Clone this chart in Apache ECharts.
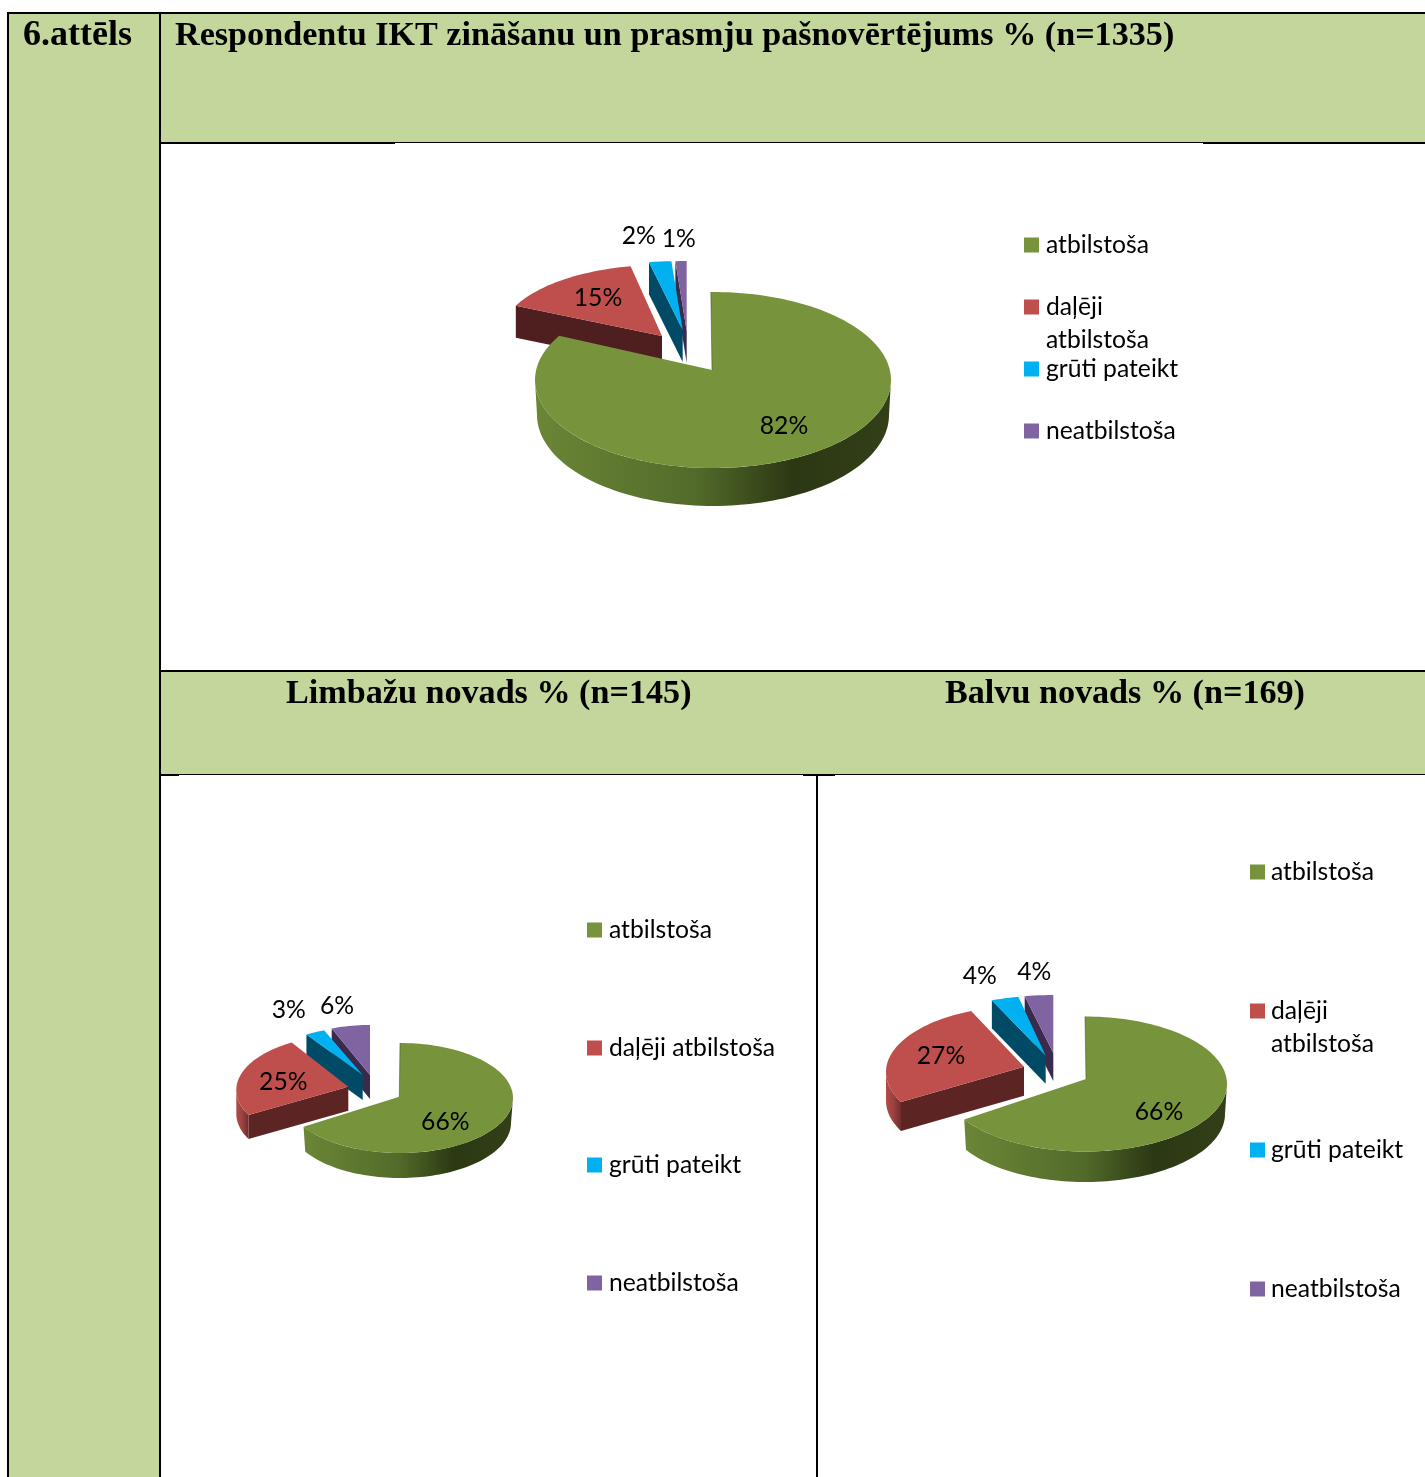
<!DOCTYPE html>
<html><head><meta charset="utf-8">
<style>html,body{margin:0;padding:0;background:#fff}#c{width:1425px;height:1477px}</style>
<script src="https://cdn.jsdelivr.net/npm/echarts@6/dist/echarts.min.js"></script>
</head><body><div id="c"></div>
<script>
// ---- data ----
const categories = ['atbilstoša', 'daļēji atbilstoša', 'grūti pateikt', 'neatbilstoša'];
const valuesAll = [82, 15, 2, 1];
const valuesLimbazi = [66, 25, 3, 6];
const valuesBalvi = [66, 27, 4, 4];
const figureLabel = '6.attēls';
const titleAll = 'Respondentu IKT zināšanu un prasmju pašnovērtējums % (n=1335)';
const titleLimbazi = 'Limbažu novads % (n=145)';
const titleBalvi = 'Balvu novads % (n=169)';

// ---- style and layout ----
const colors = ['#77933C', '#BE4F4C', '#00B0F0', '#8064A2'];
const cutColors = ['#3a4a1b', '#5c2524', '#004a66', '#3a2b4c'];
const greenWall = [[0,'#6b8636'],[0.45,'#536b2a'],[0.72,'#2c3813'],[1,'#333f18']];
const redWall = [[0,'#b24c49'],[0.5,'#9a4240'],[1,'#6e2c2b']];
const FONT = 'Lato';
const SERIF = 'Liberation Serif';

// da0/da1: perspective correction of a slice's edges, in degrees
const layouts = [
  { values: valuesAll, slices: [
    {ax:712,ay:370,cx:713,cy:380,rx:178,ry:88,bot:{cy:415,rx:176,ry:91},da0:-0.7,da1:5,lab:[72,56]},
    {ax:662,ay:336,cx:660.6,cy:336,rx:160,ry:71,depth:32,cut:'#4f1f1f',lab:[-64,-38]},
    {ax:682.7,ay:330,cx:682.7,cy:330,rx:180,ry:69,depth:32,lab:[-44,-94]},
    {ax:686.7,ay:331,cx:686.7,cy:331,rx:180,ry:70,depth:32,lab:[-8,-92]}
  ]},
  { values: valuesLimbazi, slices: [
    {ax:399.3,ay:1096.7,cx:400,cy:1098,rx:113,ry:55,bot:{cy:1123,rx:111,ry:55},da1:1,lab:[46,25]},
    {ax:348.3,ay:1086.7,cx:348.3,cy:1090,rx:112,ry:55,depth:24,da0:5.4,da1:2,lab:[-65,-5]},
    {ax:362.7,ay:1075,cx:362.7,cy:1075,rx:105,ry:48,depth:25,lab:[-74,-65]},
    {ax:370,ay:1075,cx:370,cy:1075,rx:104,ry:50,depth:24,lab:[-33,-69]}
  ]},
  { values: valuesBalvi, slices: [
    {ax:1086,ay:1079,cx:1085,cy:1084,rx:142,ry:67.5,bot:{cy:1114,rx:140,ry:68},da1:3,lab:[73,33]},
    {ax:1024,ay:1066.7,cx:1024,cy:1072,rx:138,ry:66,depth:29,da0:7.8,da1:6,lab:[-83,-11]},
    {ax:1045.7,ay:1055.7,cx:1045.7,cy:1055.7,rx:140,ry:60,depth:28,da0:5.9,da1:3,lab:[-66,-80]},
    {ax:1053.3,ay:1053,cx:1053.3,cy:1053,rx:138,ry:58,depth:28,da0:2.3,lab:[-19,-81]}
  ]}
];

// legend rows: x of the icon, centre y of each row
const legendRows = [
  {x:1024, ys:[245,307,369,431], wrap:true, gap:2},
  {x:587,  ys:[930,1048,1165,1283], wrap:false, gap:2},
  {x:1250, ys:[872,1011,1150,1289], wrap:true, gap:1}
];

function rad(d){return d*Math.PI/180;}
function pt(c,r,a){return [c.x+r.x*Math.sin(rad(a)), c.y-r.y*Math.cos(rad(a))];}
function arc(cx,cy,rx,ry,a0,a1){
  const n=Math.max(2,Math.ceil(Math.abs(a1-a0)/2)), out=[];
  for(let i=0;i<=n;i++){out.push(pt({x:cx,y:cy},{x:rx,y:ry},a0+(a1-a0)*i/n));}
  return out;
}

function sliceRender(chartIdx, sliceIdx){
  return function(params, api){
    const lay=layouts[chartIdx], vals=lay.values, s=lay.slices[sliceIdx];
    const total=vals.reduce((a,b)=>a+b,0);
    let before=0; for(let i=0;i<sliceIdx;i++) before+=vals[i];
    const v=api.value(0);
    const a0=before/total*360+(s.da0||0), a1=(before+v)/total*360+(s.da1||0);
    const depth=s.depth||0;
    const bot=s.bot||{cy:s.cy+depth,rx:s.rx,ry:s.ry};
    const kids=[];
    const o=pt({x:s.cx,y:s.cy},{x:s.rx,y:s.ry},a0);
    // radial cut face at the slice start
    if(sliceIdx>0){
      kids.push({type:'polygon',shape:{points:[o,[s.ax,s.ay],[s.ax,s.ay+depth],[o[0],o[1]+depth]]},
        style:{fill:s.cut||cutColors[sliceIdx]}});
    }
    // outer wall on the front half of the ellipse
    const w0=Math.max(a0,90), w1=Math.min(a1,270);
    if(w1>w0){
      const top=arc(s.cx,s.cy,s.rx,s.ry,w0,w1), low=arc(s.cx,bot.cy,bot.rx,bot.ry,w1,w0);
      kids.push({type:'polygon',shape:{points:top.concat(low)},
        style:{fill:{type:'linear',x:0,y:0,x2:1,y2:0,
          colorStops:(sliceIdx===0?greenWall:redWall).map(p=>({offset:p[0],color:p[1]}))}}});
    }
    // top face
    kids.push({type:'polygon',shape:{points:[[s.ax,s.ay]].concat(arc(s.cx,s.cy,s.rx,s.ry,a0,a1))},
      style:{fill:api.visual('color')}});
    // thin dark edge where the large slice's cut face is seen almost end-on
    if(sliceIdx===0){
      kids.push({type:'line',shape:{x1:o[0],y1:o[1],x2:s.ax,y2:s.ay},
        style:{stroke:cutColors[0],lineWidth:1,opacity:0.5}});
    }
    // percentage label
    kids.push({type:'text',z2:50,style:{text:Math.round(v)+'%',x:s.ax+s.lab[0],y:s.ay+s.lab[1],
      align:'center',verticalAlign:'middle',fill:'#000',font:'24.7px '+FONT}});
    return {type:'group',children:kids};
  };
}

// back to front: purple, blue, red, green
const series=[];
layouts.forEach((lay,ci)=>{
  [3,2,1,0].forEach(si=>{
    series.push({type:'custom',name:categories[si],coordinateSystem:'none',silent:true,
      itemStyle:{color:colors[si]},data:[[lay.values[si]]],renderItem:sliceRender(ci,si),
      animation:false,clip:false});
  });
});

const LINE=33, FS=24.7;
const legends=[];
legendRows.forEach(row=>{
  categories.forEach((name,i)=>{
    const twoLines=row.wrap && i===1;
    legends.push({
      left:row.x, top: twoLines ? row.ys[i]-LINE*1.5 : row.ys[i]-LINE/2,
      padding:0,orient:'vertical',selectedMode:false,icon:'rect',itemWidth:15,itemHeight:15,
      data:[name],
      // a blank first line keeps the first text line level with the icon
      formatter:n=>twoLines?' \n'+n.replace(' ','\n'):n,
      textStyle:{fontFamily:FONT,fontSize:FS,color:'#000',lineHeight:LINE,padding:[0,0,0,row.gap]}
    });
  });
});

function ttl(text,left,top,size){
  return {text,left,top,padding:0,textStyle:{fontFamily:SERIF,fontWeight:'bold',fontSize:size||34.15,color:'#000'}};
}
function rect(x,y,w,h,fill){return {type:'rect',shape:{x,y,width:w,height:h},style:{fill},silent:true,z:-10};}
const GREEN='#C3D69B', K='#000';
const graphicEls=[
  rect(8,13,1417,1464,'#fff'),
  rect(8,13,152,1464,GREEN),
  rect(160,13,1265,130,GREEN),
  rect(160,671,1265,104,GREEN),
  // outer and inner rules
  rect(7,12,1418,2,K), rect(7,12,2,1465,K), rect(159,12,2,1465,K),
  rect(160,142,235,2,K), rect(395,142,808,1,K), rect(1203,142,222,2,K),
  rect(160,670,1265,2,K),
  rect(160,774,19,2,K), rect(179,774,624,1,K), rect(803,774,32,2,K), rect(835,774,590,1,K),
  rect(816,775,2,702,K)
];

const chart=echarts.init(document.getElementById('c'),null,{renderer:'canvas'});
chart.setOption({
  animation:false,backgroundColor:'#fff',
  title:[ttl(figureLabel,23,18,36),ttl(titleAll,175,19),ttl(titleLimbazi,286,677),ttl(titleBalvi,945,677)],
  legend:legends,
  graphic:{elements:graphicEls},
  series
});
</script></body></html>
